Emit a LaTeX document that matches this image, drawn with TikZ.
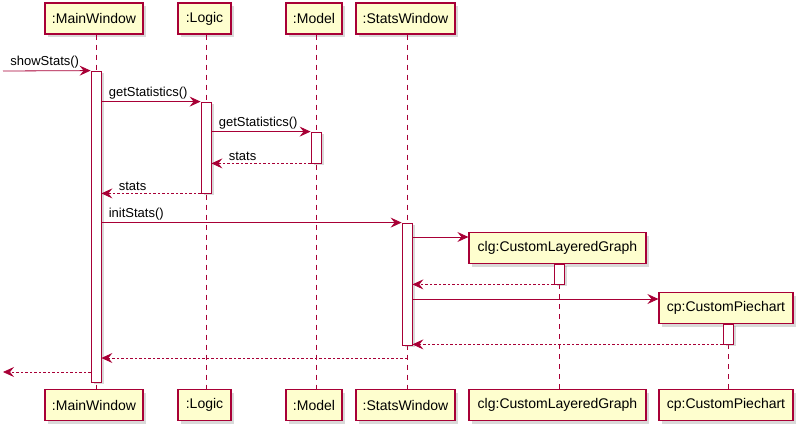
\documentclass[tikz,border=0pt]{standalone}
\usepackage{fontspec}
\setmainfont{Liberation Sans}
\usepackage{tikz}
\usetikzlibrary{arrows.meta,positioning,shadows,fit}
\definecolor{umlline}{HTML}{A80036}
\definecolor{umlfill}{HTML}{FEFECE}

\begin{document}
\begin{tikzpicture}[
  x=1pt, y=-1pt,
  >={Stealth[length=11pt,width=10pt,inset=4pt]},
  part/.style={draw=umlline, line width=1.2pt, fill=umlfill, minimum height=31pt,
               inner sep=0pt, font=\fontsize{14}{16}\selectfont,
               drop shadow={shadow xshift=3pt, shadow yshift=-3pt, opacity=0.3}},
  act/.style={draw=umlline, line width=0.8pt, fill=white, inner sep=0pt,
              drop shadow={shadow xshift=3pt, shadow yshift=-2pt, opacity=0.3}},
  life/.style={draw=umlline, line width=0.8pt, dash pattern=on 5pt off 5pt},
  msg/.style={draw=umlline, line width=0.8pt, ->},
  ret/.style={msg, dash pattern=on 2.5pt off 2pt},
  lbl/.style={font=\fontsize{13}{15}\selectfont, text=black, inner sep=2pt}]
\useasboundingbox (0,0) rectangle (802,431);

% participants
\node[part, minimum width=98pt] (mwTop) at (94,18.5) {:MainWindow};
\node[part, minimum width=53pt] (lgTop) at (204.5,18.5) {:Logic};
\node[part, minimum width=56pt] (mdTop) at (314,18.5) {:Model};
\node[part, minimum width=99pt] (stTop) at (405.5,18.5) {:StatsWindow};
\node[part, minimum width=177pt] (clgTop) at (557.5,248) {clg:CustomLayeredGraph};
\node[part, minimum width=134pt] (cpTop) at (726,308) {cp:CustomPiechart};

\node[part, minimum width=98pt] (mwBot) at (94,405) {:MainWindow};
\node[part, minimum width=53pt] (lgBot) at (204.5,405) {:Logic};
\node[part, minimum width=56pt] (mdBot) at (314,405) {:Model};
\node[part, minimum width=99pt] (stBot) at (405.5,405) {:StatsWindow};
\node[part, minimum width=177pt] (clgBot) at (557.5,405) {clg:CustomLayeredGraph};
\node[part, minimum width=134pt] (cpBot) at (726,405) {cp:CustomPiechart};

% lifelines
\foreach \p in {mw,lg,md,st,clg,cp}
  \draw[life] ([xshift=2pt]\p Top.south) -- ([xshift=2pt]\p Bot.north);

% activations
\node[act, fit={(91,71) (101,382)}] (mwAct) {};
\node[act, fit={(201,102) (211,193)}] (lgAct) {};
\node[act, fit={(311,132) (321,163)}] (mdAct) {};
\node[act, fit={(402,223) (412,345)}] (stAct) {};
\node[act, fit={(554,264) (564,284)}] (clgAct) {};
\node[act, fit={(723,324) (733,344)}] (cpAct) {};

\coordinate (inCall) at (3,71);
\coordinate (outRet) at (3,372);

% messages
\draw[msg] (inCall) -- (mwAct.north west)
  node[lbl, pos=0, anchor=south west, xshift=5pt] {showStats()};
\draw[msg] (mwAct.east |- lgAct.north) -- (lgAct.north west)
  node[lbl, pos=0, anchor=south west, xshift=5pt] {getStatistics()};
\draw[msg] (lgAct.east |- mdAct.north) -- (mdAct.north west)
  node[lbl, pos=0, anchor=south west, xshift=5pt] {getStatistics()};
\draw[ret] (mdAct.south west) -- (lgAct.east |- mdAct.south)
  node[lbl, pos=1, anchor=south west, xshift=15pt] {stats};
\draw[ret] (lgAct.south west) -- (mwAct.east |- lgAct.south)
  node[lbl, pos=1, anchor=south west, xshift=15pt] {stats};
\draw[msg] (mwAct.east |- stAct.north) -- (stAct.north west)
  node[lbl, pos=0, anchor=south west, xshift=5pt] {initStats()};
\draw[msg] (stAct.east |- 0,237) -- (clgTop.west |- 0,237);
\draw[ret] (clgAct.south west) -- (stAct.east |- clgAct.south);
\draw[msg] (stAct.east |- 0,299) -- (cpTop.west |- 0,299);
\draw[ret] (cpAct.south west) -- (stAct.east |- cpAct.south);
\draw[ret] (stAct.south |- 0,358) -- (mwAct.east |- 0,358);
\draw[ret] (mwAct.west |- outRet) -- (outRet);
\end{tikzpicture}
\end{document}
